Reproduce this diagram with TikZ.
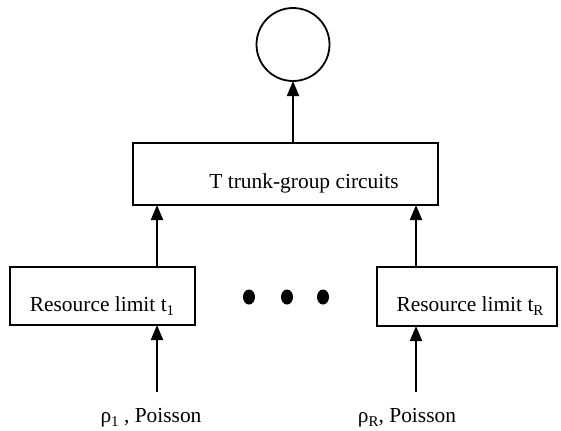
\documentclass[tikz,border=0pt]{standalone}
\usepackage{fontspec}
\setmainfont{Liberation Serif}
\usetikzlibrary{arrows.meta}

\tikzset{
  blk/.style={draw, line width=1.8bp, inner sep=0pt, outer sep=0pt},
  lbl/.style={font=\fontsize{21.5}{25}\selectfont, inner sep=0pt},
  flow/.style={line width=2bp, -{Triangle[length=15bp,width=12bp]}}
}
\newcommand{\sbs}[1]{\raisebox{-0.35ex}{\fontsize{15}{17}\selectfont #1}}

\begin{document}
\begin{tikzpicture}[x=1bp, y=-1bp]
\useasboundingbox (0,0) rectangle (561,430);
% server and trunk group
\node[blk, circle, minimum size=73bp] (sink) at (293,44.5) {};
\node[blk, minimum width=305bp, minimum height=62bp] (trunk) at (285.5,174) {};
\node[lbl] (trunktxt) at (304,183) {T trunk-group circuits};
% resource limits
\node[blk, minimum width=185bp, minimum height=58bp] (lim1) at (102.5,296) {};
\node[lbl] (lim1txt) at (102,306) {Resource limit t\sbs{1}};
\node[blk, minimum width=180bp, minimum height=59bp] (limR) at (467,296.5) {};
\node[lbl] (limRtxt) at (470,306) {Resource limit t\sbs{R}};
\foreach \x in {249,287,323}
  \fill (\x,297) ellipse [x radius=6, y radius=7.5];
% arrival streams
\coordinate (in1) at (157,392);
\coordinate (inR) at (416,392);
\node[lbl] (src1) at (151,418) {ρ\sbs{1} , Poisson};
\node[lbl] (srcR) at (407,418) {ρ\sbs{R}, Poisson};
\draw[flow] (in1) -- (lim1.south -| in1);
\draw[flow] (inR) -- (limR.south -| inR);
\draw[flow] (lim1.north -| in1) -- (trunk.south -| in1);
\draw[flow] (limR.north -| inR) -- (trunk.south -| inR);
\draw[flow] (trunk.north -| sink) -- (sink.south);
\end{tikzpicture}
\end{document}
